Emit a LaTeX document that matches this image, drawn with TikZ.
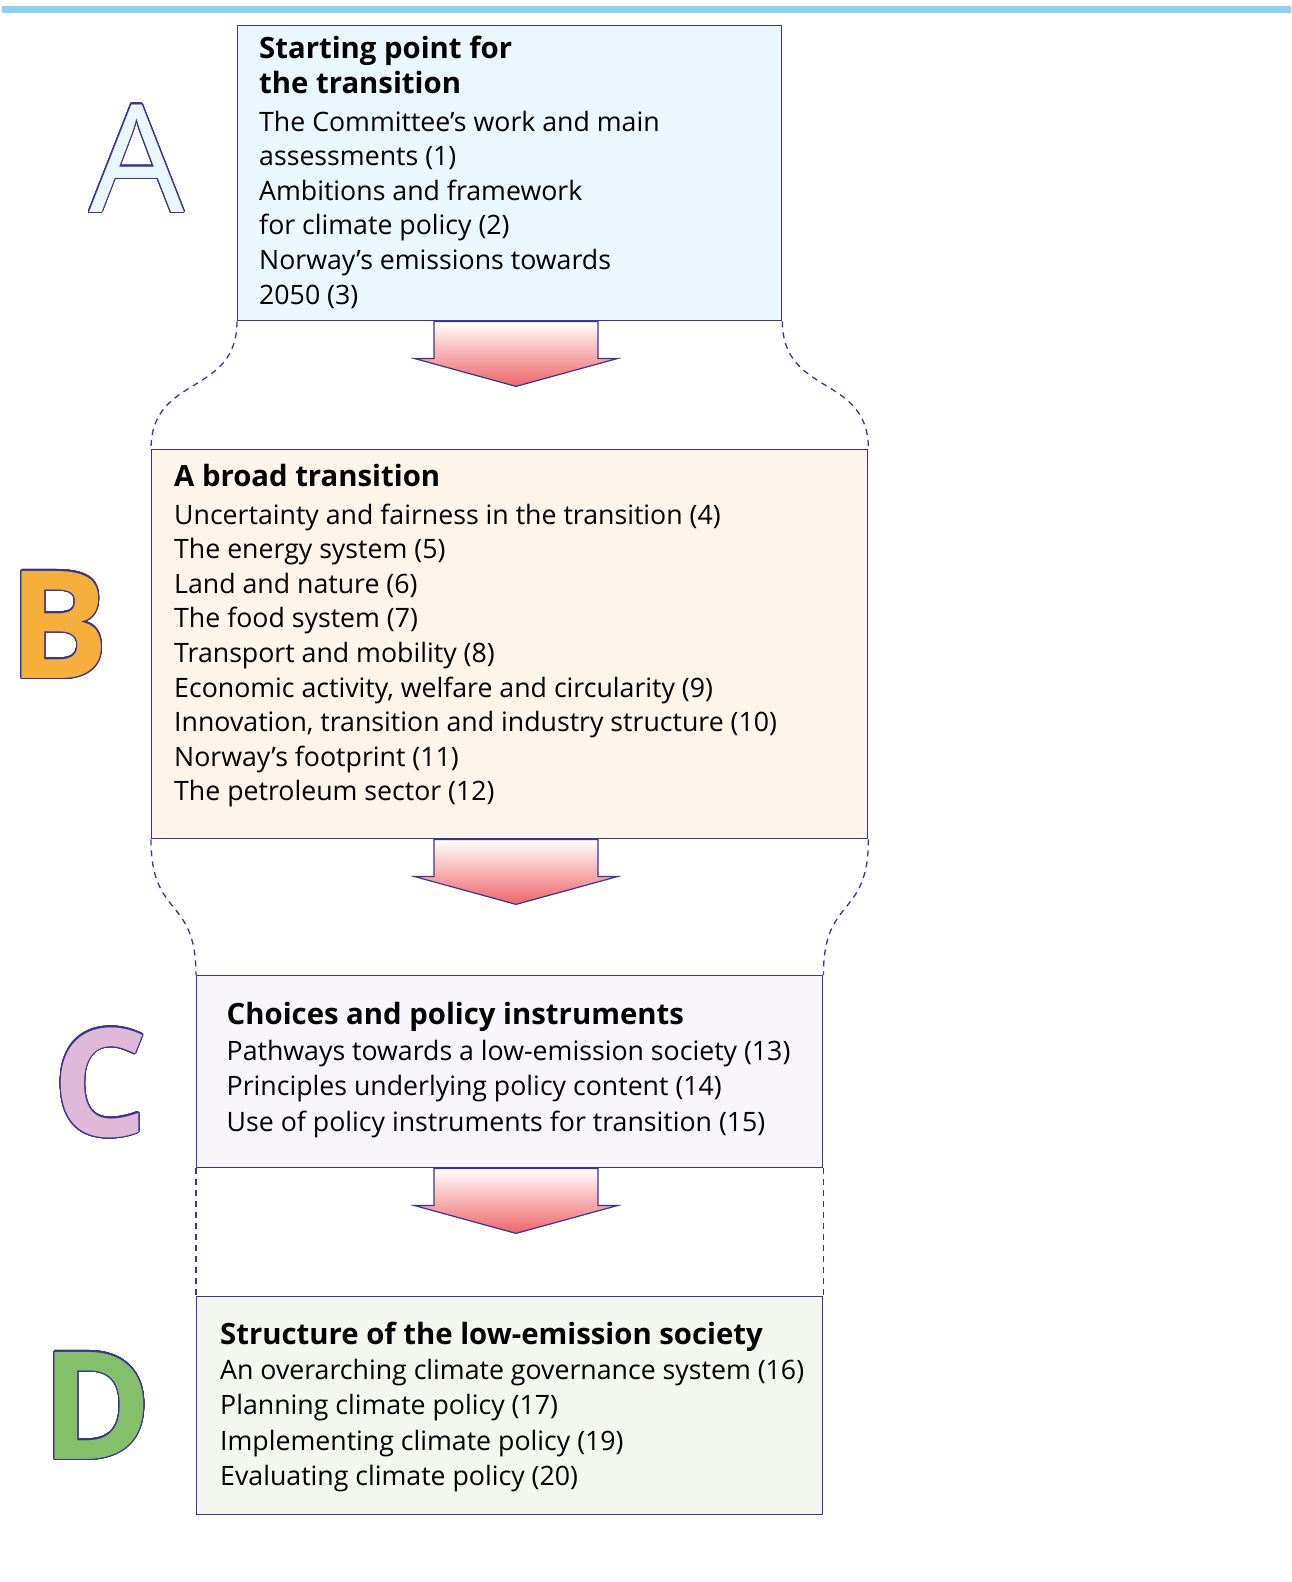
\documentclass[tikz,border=0pt]{standalone}
\usepackage{fontspec}
\setmainfont{Open Sans}
\usepackage[copies]{contour}
\usetikzlibrary{calc}

\definecolor{edgeblue}{HTML}{3B3592}
\definecolor{barblue}{HTML}{8ED0F2}
\definecolor{fillA}{HTML}{EBF6FD}
\definecolor{fillB}{HTML}{FDF4EC}
\definecolor{fillC}{HTML}{F8F6FB}
\definecolor{fillD}{HTML}{F4F6F0}
\definecolor{letterA}{HTML}{EAF5FC}
\definecolor{letterB}{HTML}{F6AF3A}
\definecolor{letterC}{HTML}{E0B9D8}
\definecolor{letterD}{HTML}{84C06A}
\definecolor{arrowred}{HTML}{EE6468}

\contourlength{1.2pt}
\contournumber{32}

\begin{document}
\begin{tikzpicture}[
    x=1pt, y=-1pt,
    box/.style={draw=edgeblue, line width=1.4pt, anchor=north west, inner sep=0pt},
    line/.style={anchor=base west, inner sep=0pt, font=\fontsize{26.7}{30}\selectfont},
    head/.style={line, font=\fontsize{29.3}{32}\selectfont\bfseries},
    letter/.style={anchor=base, inner sep=0pt, font=\fontsize{150}{150}\selectfont},
    guide/.style={draw=edgeblue, line width=1.3pt, dash pattern=on 6pt off 5pt},
    flow/.style={draw=edgeblue, line width=1.2pt, top color=white, bottom color=arrowred}
]
    \useasboundingbox (0,0) rectangle (1291,1582);
    \fill[barblue] (2,6) rectangle (1291,13);

    % the four boxes
    \node[box, fill=fillA, minimum width=544, minimum height=295] (boxA) at (237,25) {};
    \node[box, fill=fillB, minimum width=716, minimum height=389] (boxB) at (151,449) {};
    \node[box, fill=fillC, minimum width=626, minimum height=192] (boxC) at (196,975) {};
    \node[box, fill=fillD, minimum width=626, minimum height=218] (boxD) at (196,1296) {};

    % dashed outline between boxes
    \draw[guide] (boxA.south west) .. controls +(0,75) and +(0,-75) .. (boxB.north west);
    \draw[guide] (boxA.south east) .. controls +(0,75) and +(0,-75) .. (boxB.north east);
    \draw[guide] (boxB.south west) .. controls +(0,80) and +(0,-80) .. (boxC.north west);
    \draw[guide] (boxB.south east) .. controls +(0,80) and +(0,-80) .. (boxC.north east);
    \draw[guide] (boxC.south west) -- (boxD.north west);
    \draw[guide] (boxC.south east) -- (boxD.north east);

    % arrows
    \foreach \b in {boxA,boxB,boxC}
        \shadedraw[flow] (516,0 |- \b.south) ++(-82,0) -- ++(0,37) -- ++(-20,0)
            -- ++(102,28) -- ++(102,-28) -- ++(-20,0) -- ++(0,-37) -- cycle;

    % texts
    \node[head] (hA1) at (259,58.3) {Starting point for};
    \node[head] (hA2) at (259,93.3) {the transition};
    \foreach \t [count=\i] in {The Committee’s work and main, assessments (1),
        Ambitions and framework, for climate policy (2),
        Norway’s emissions towards, 2050 (3)}
        \node[line] (tA\i) at (259,131+34.6*\i-34.6) {\t};

    \node[head] (hB) at (174,486.7) {A broad transition};
    \foreach \t [count=\i] in {Uncertainty and fairness in the transition (4),
        The energy system (5), Land and nature (6), The food system (7),
        Transport and mobility (8), {Economic activity, welfare and circularity (9)},
        {Innovation, transition and industry structure (10)},
        Norway’s footprint (11), The petroleum sector (12)}
        \node[line] (tB\i) at (174,524+34.6*\i-34.6) {\t};

    \node[head] (hC) at (226.5,1024.3) {Choices and policy instruments};
    \foreach \t [count=\i] in {Pathways towards a low-emission society (13),
        Principles underlying policy content (14),
        Use of policy instruments for transition (15)}
        \node[line] (tC\i) at (226.5,1060+35.8*\i-35.8) {\t};

    \node[head] (hD) at (220,1344.3) {Structure of the low-emission society};
    \foreach \t [count=\i] in {An overarching climate governance system (16),
        Planning climate policy (17), Implementing climate policy (19),
        Evaluating climate policy (20)}
        \node[line] (tD\i) at (220,1379+35.6*\i-35.6) {\t};

    % big letters
    \node[letter] (lA) at (136.7,212) {\contour{edgeblue}{\textcolor{letterA}{A}}};
    \node[letter] (lB) at (59,678) {\contour{edgeblue}{\textcolor{letterB}{\bfseries B}}};
    \node[letter] (lC) at (100,1136) {\contour{edgeblue}{\textcolor{letterC}{\bfseries C}}};
    \node[letter] (lD) at (97,1459) {\contour{edgeblue}{\textcolor{letterD}{\bfseries D}}};
\end{tikzpicture}
\end{document}
